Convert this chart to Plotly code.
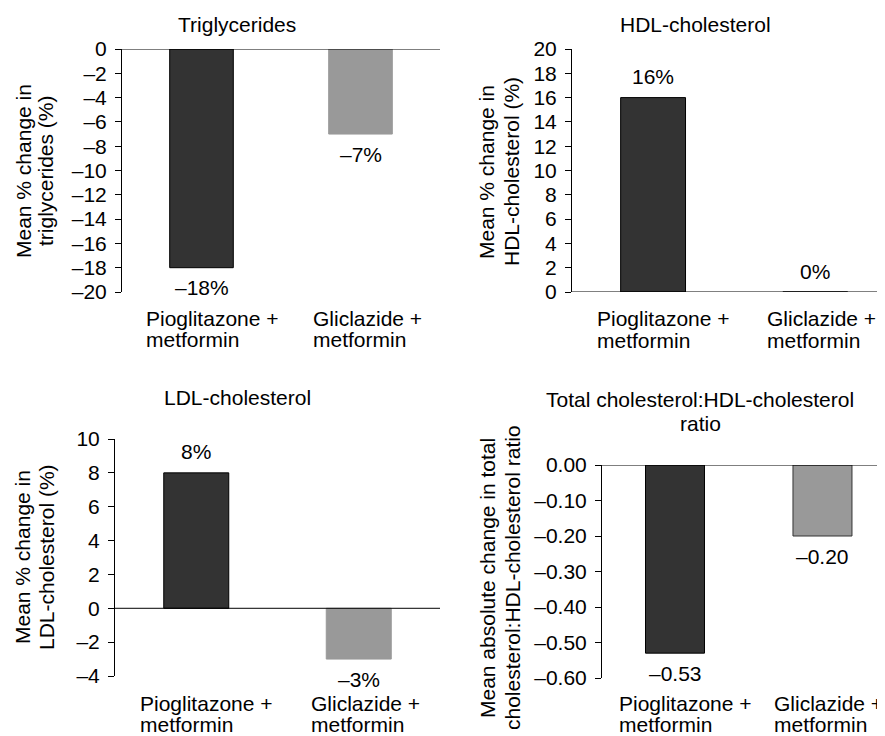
import plotly.graph_objects as go

# ---------------- data ----------------
categories = [["Pioglitazone +", "metformin"], ["Gliclazide +", "metformin"]]

tg_values = [-18, -7]
hdl_values = [16, 0]
ldl_values = [8, -3]
ratio_values = [-0.53, -0.20]

tg_labels = ["–18%", "–7%"]
hdl_labels = ["16%", "0%"]
ldl_labels = ["8%", "–3%"]
ratio_labels = ["–0.53", "–0.20"]

tg_ticks = [0, -2, -4, -6, -8, -10, -12, -14, -16, -18, -20]
tg_ticktext = ["0", "–2", "–4", "–6", "–8", "–10", "–12", "–14", "–16", "–18", "–20"]
hdl_ticks = [0, 2, 4, 6, 8, 10, 12, 14, 16, 18, 20]
hdl_ticktext = ["0", "2", "4", "6", "8", "10", "12", "14", "16", "18", "20"]
ldl_ticks = [10, 8, 6, 4, 2, 0, -2, -4]
ldl_ticktext = ["10", "8", "6", "4", "2", "0", "–2", "–4"]
ratio_ticks = [0, -0.1, -0.2, -0.3, -0.4, -0.5, -0.6]
ratio_ticktext = ["0.00", "–0.10", "–0.20", "–0.30", "–0.40", "–0.50", "–0.60"]

titles = [["Triglycerides"], ["HDL-cholesterol"], ["LDL-cholesterol"],
          ["Total cholesterol:HDL-cholesterol", "ratio"]]
ytitles = [["Mean % change in", "triglycerides (%)"],
           ["Mean % change in", "HDL-cholesterol (%)"],
           ["Mean % change in", "LDL-cholesterol (%)"],
           ["Mean absolute change in total", "cholesterol:HDL-cholesterol ratio"]]

# ---------------- layout helpers ----------------
PAGE_W, PAGE_H = 885, 736
OFF = 8  # default page body margin
W, H = PAGE_W - OFF, PAGE_H - OFF
FONT = "Liberation Sans, Arial, Helvetica, sans-serif"
FS = 21
DARK = "#333333"
GREY = "#999999"
BLACK = "#000000"

def px(x):
    return (x - OFF) / W

def py(y):
    return 1 - (y - OFF) / H

panels = [
    dict(vals=tg_values, labs=tg_labels, ticks=tg_ticks, tt=tg_ticktext, yr=[-20, 0],
         xd=[122, 440], yd=[49, 292], xr=[-0.5, 1.5],
         title_x=237, title_y=[24], ytitle_x=[23, 45], ytitle_y=171,
         cat_dy=[26, 48], grey_line=GREY),
    dict(vals=hdl_values, labs=hdl_labels, ticks=hdl_ticks, tt=hdl_ticktext, yr=[0, 20],
         xd=[572, 885], yd=[49, 292], xr=[-0.5, 1.43],
         title_x=695, title_y=[24], ytitle_x=[487, 512], ytitle_y=172,
         cat_dy=[26, 49], grey_line=BLACK),
    dict(vals=ldl_values, labs=ldl_labels, ticks=ldl_ticks, tt=ldl_ticktext, yr=[-4, 10],
         xd=[115, 440], yd=[439, 676], xr=[-0.5, 1.5],
         title_x=237, title_y=[397], ytitle_x=[22, 46], ytitle_y=557,
         cat_dy=[27, 48], grey_line=GREY),
    dict(vals=ratio_values, labs=ratio_labels, ticks=ratio_ticks, tt=ratio_ticktext, yr=[-0.6, 0],
         xd=[602, 885], yd=[465, 678], xr=[-0.495, 1.424],
         title_x=700, title_y=[399, 423], ytitle_x=[487, 512], ytitle_y=578,
         cat_dy=[25, 46], grey_line=DARK),
]
cat_left_shift = [-58, -50]  # left edge of category label relative to bar centre (px)

fig = go.Figure()
annotations = []
shapes = []
layout = {}

def txt(**kw):
    base = dict(showarrow=False, font=dict(family=FONT, size=FS, color=BLACK))
    base.update(kw)
    return base

for i, p in enumerate(panels):
    sfx = "" if i == 0 else str(i + 1)
    xa, ya = "x" + sfx, "y" + sfx
    fig.add_trace(go.Bar(
        x=[0, 1], y=p["vals"], width=0.4,
        marker=dict(color=[DARK, GREY],
                    line=dict(color=[BLACK, p["grey_line"]], width=1)),
        xaxis=xa, yaxis=ya, showlegend=False, hoverinfo="skip",
    ))
    layout["xaxis" + sfx] = dict(
        domain=[px(p["xd"][0]), min(1.0, px(p["xd"][1]))], range=p["xr"], anchor=ya,
        showline=False, showticklabels=False, showgrid=False, zeroline=False,
        ticks="", fixedrange=True, automargin=False,
    )
    layout["yaxis" + sfx] = dict(
        domain=[py(p["yd"][1]), py(p["yd"][0])], range=p["yr"], anchor=xa,
        tickvals=p["ticks"], ticktext=p["tt"], ticks="outside", ticklen=6,
        tickwidth=1, tickcolor=BLACK, showline=True, linecolor=BLACK,
        linewidth=1, showgrid=False, zeroline=False, automargin=False,
        ticklabelstandoff=4,
        tickfont=dict(family=FONT, size=FS, color=BLACK), fixedrange=True,
    )
    # zero baseline
    shapes.append(dict(type="line", xref=xa + " domain", yref=ya, x0=0, x1=1,
                       y0=0, y1=0, line=dict(color=BLACK, width=1)))
    # panel title lines
    for k, line in enumerate(titles[i]):
        annotations.append(txt(text=line, xref="paper", yref="paper",
                               x=px(p["title_x"]), y=py(p["title_y"][k]),
                               xanchor="center", yanchor="middle"))
    # y-axis title lines
    for k, line in enumerate(ytitles[i]):
        annotations.append(txt(text=line, xref="paper", yref="paper",
                               x=px(p["ytitle_x"][k]), y=py(p["ytitle_y"]),
                               xanchor="center", yanchor="middle", textangle=-90))
    # value labels
    for j, v in enumerate(p["vals"]):
        annotations.append(txt(text=p["labs"][j], xref=xa, yref=ya, x=j, y=v,
                               xanchor="center", yanchor="middle",
                               yshift=21 if v >= 0 else -20))
    # category labels (left aligned two-line blocks)
    for j, lines in enumerate(categories):
        for k, line in enumerate(lines):
            annotations.append(txt(text=line, xref=xa, yref="paper", x=j,
                                   y=py(p["yd"][1] + p["cat_dy"][k]),
                                   xanchor="left", yanchor="middle",
                                   xshift=cat_left_shift[j]))

fig.update_layout(
    template="none", autosize=False,
    width=W, height=H, margin=dict(l=0, r=0, t=0, b=0, pad=0),
    paper_bgcolor="white", plot_bgcolor="white",
    font=dict(family=FONT, size=FS, color=BLACK),
    annotations=annotations, shapes=shapes, **layout,
)

fig.write_html("out.html")
